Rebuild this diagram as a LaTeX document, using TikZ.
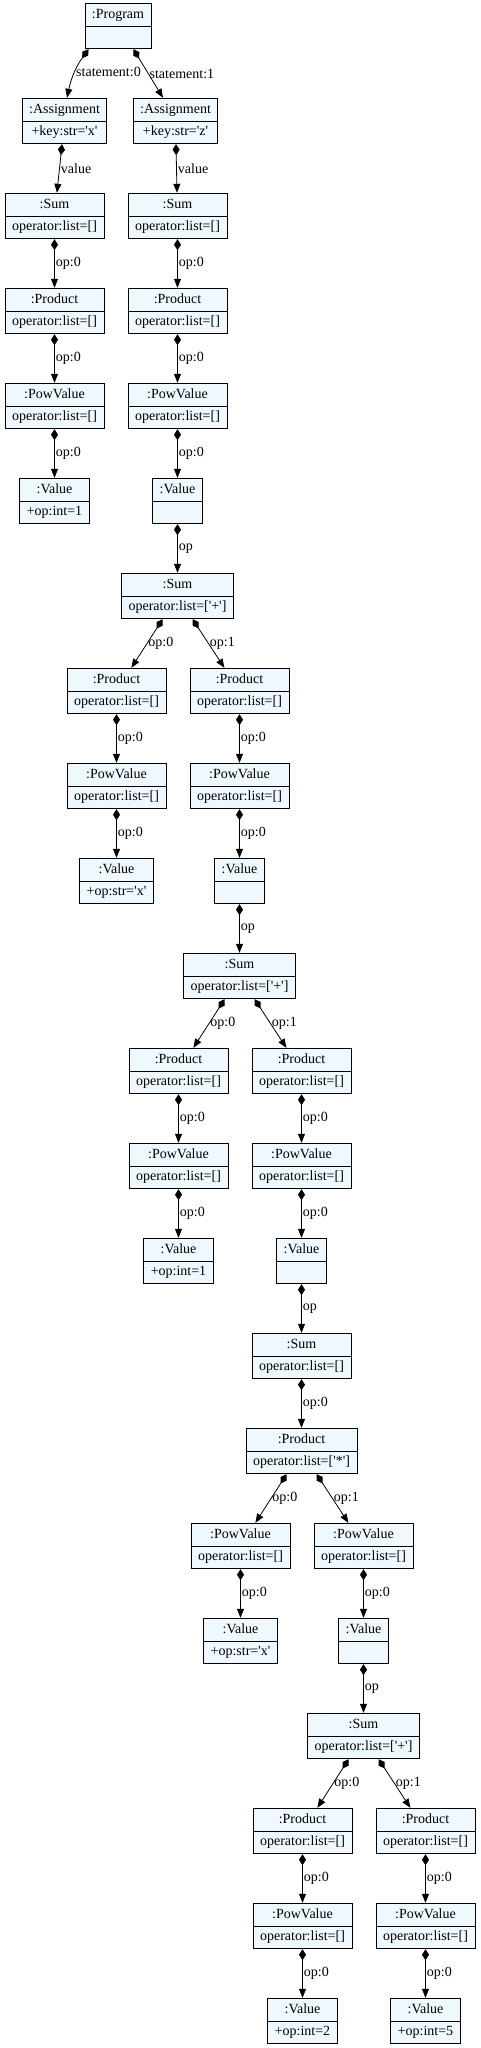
\documentclass[tikz,border=0pt]{standalone}
\usepackage{fontspec}
\setmainfont{Liberation Serif}[Ligatures=TeXOff]
\usetikzlibrary{shapes.multipart, arrows.meta}

\definecolor{objfill}{HTML}{F0F8FF}

\tikzset{
  umlobj/.style={draw, fill=objfill, rectangle split, rectangle split parts=2,
    inner xsep=7pt, inner ysep=3.5pt, line width=0.8pt},
  comp/.style={{Diamond[length=11pt,width=7pt]}-{Triangle[length=9pt,width=7pt]}, line width=0.8pt},
  lbl/.style={midway, right, inner sep=1pt}
}
\newcommand{\obj}[2]{\rule[-4pt]{0pt}{15pt}#1\nodepart{two}\rule[-4pt]{0pt}{15pt}#2}

\begin{document}
\begin{tikzpicture}[x=1pt, y=1pt, font=\fontsize{14}{17}\selectfont]
        \useasboundingbox (0, 0) rectangle (480, -2048);

        \node[umlobj] at (118, -26) (prog) {\obj{:Program}{}};
        \node[umlobj] at (64.5, -121) (asgL) {\obj{:Assignment}{+key:str='x'}};
        \node[umlobj] at (175.5, -121) (asgR) {\obj{:Assignment}{+key:str='z'}};

        % first statement
        \node[umlobj] at (54.5, -216) (sumL) {\obj{:Sum}{operator:list=[]}};
        \node[umlobj] at (54.5, -311) (prodL) {\obj{:Product}{operator:list=[]}};
        \node[umlobj] at (54.5, -406) (powL) {\obj{:PowValue}{operator:list=[]}};
        \node[umlobj] at (54.5, -501) (valL) {\obj{:Value}{+op:int=1}};

        % second statement
        \node[umlobj] at (177.5, -216) (sumR) {\obj{:Sum}{operator:list=[]}};
        \node[umlobj] at (177.5, -311) (prodR) {\obj{:Product}{operator:list=[]}};
        \node[umlobj] at (177.5, -406) (powR) {\obj{:PowValue}{operator:list=[]}};
        \node[umlobj] at (177.5, -501) (valR) {\obj{:Value}{}};

        \node[umlobj] at (177.5, -596) (sumA) {\obj{:Sum}{operator:list=['+']}};
        \node[umlobj] at (116.5, -691) (prodAL) {\obj{:Product}{operator:list=[]}};
        \node[umlobj] at (116.5, -786) (powAL) {\obj{:PowValue}{operator:list=[]}};
        \node[umlobj] at (116.5, -881) (valAL) {\obj{:Value}{+op:str='x'}};
        \node[umlobj] at (239.5, -691) (prodAR) {\obj{:Product}{operator:list=[]}};
        \node[umlobj] at (239.5, -786) (powAR) {\obj{:PowValue}{operator:list=[]}};
        \node[umlobj] at (239.5, -881) (valAR) {\obj{:Value}{}};

        \node[umlobj] at (239.5, -976) (sumB) {\obj{:Sum}{operator:list=['+']}};
        \node[umlobj] at (178.5, -1071) (prodBL) {\obj{:Product}{operator:list=[]}};
        \node[umlobj] at (178.5, -1166) (powBL) {\obj{:PowValue}{operator:list=[]}};
        \node[umlobj] at (178.5, -1261) (valBL) {\obj{:Value}{+op:int=1}};
        \node[umlobj] at (301.5, -1071) (prodBR) {\obj{:Product}{operator:list=[]}};
        \node[umlobj] at (301.5, -1166) (powBR) {\obj{:PowValue}{operator:list=[]}};
        \node[umlobj] at (301.5, -1261) (valBR) {\obj{:Value}{}};

        \node[umlobj] at (301.5, -1356) (sumC) {\obj{:Sum}{operator:list=[]}};
        \node[umlobj] at (301.5, -1451) (prodC) {\obj{:Product}{operator:list=['*']}};
        \node[umlobj] at (240.5, -1546) (powCL) {\obj{:PowValue}{operator:list=[]}};
        \node[umlobj] at (240.5, -1641) (valCL) {\obj{:Value}{+op:str='x'}};
        \node[umlobj] at (363.5, -1546) (powCR) {\obj{:PowValue}{operator:list=[]}};
        \node[umlobj] at (363.5, -1641) (valCR) {\obj{:Value}{}};

        \node[umlobj] at (363.5, -1736) (sumD) {\obj{:Sum}{operator:list=['+']}};
        \node[umlobj] at (302.5, -1831) (prodDL) {\obj{:Product}{operator:list=[]}};
        \node[umlobj] at (302.5, -1926) (powDL) {\obj{:PowValue}{operator:list=[]}};
        \node[umlobj] at (302.5, -2021) (valDL) {\obj{:Value}{+op:int=2}};
        \node[umlobj] at (425.5, -1831) (prodDR) {\obj{:Product}{operator:list=[]}};
        \node[umlobj] at (425.5, -1926) (powDR) {\obj{:PowValue}{operator:list=[]}};
        \node[umlobj] at (425.5, -2021) (valDR) {\obj{:Value}{+op:int=5}};

        \draw[comp] ([xshift=4pt]prog.south west) to[bend right=12] node[lbl] {statement:0} ([xshift=2.5pt]asgL.north);
        \draw[comp] ([xshift=-18pt]prog.south east) -- node[lbl] {statement:1} ([xshift=-12.5pt]asgR.north);

        \draw[comp] (asgL) -- node[lbl] {value} (sumL);
        \draw[comp] (sumL) -- node[lbl] {op:0} (prodL);
        \draw[comp] (prodL) -- node[lbl] {op:0} (powL);
        \draw[comp] (powL) -- node[lbl] {op:0} (valL);

        \draw[comp] (asgR) -- node[lbl] {value} (sumR);
        \draw[comp] (sumR) -- node[lbl] {op:0} (prodR);
        \draw[comp] (prodR) -- node[lbl] {op:0} (powR);
        \draw[comp] (powR) -- node[lbl] {op:0} (valR);
        \draw[comp] (valR) -- node[lbl] {op} (sumA);

        \draw[comp] (sumA) -- node[lbl] {op:0} (prodAL);
        \draw[comp] (sumA) -- node[lbl] {op:1} (prodAR);
        \draw[comp] (prodAL) -- node[lbl] {op:0} (powAL);
        \draw[comp] (powAL) -- node[lbl] {op:0} (valAL);
        \draw[comp] (prodAR) -- node[lbl] {op:0} (powAR);
        \draw[comp] (powAR) -- node[lbl] {op:0} (valAR);
        \draw[comp] (valAR) -- node[lbl] {op} (sumB);

        \draw[comp] (sumB) -- node[lbl] {op:0} (prodBL);
        \draw[comp] (sumB) -- node[lbl] {op:1} (prodBR);
        \draw[comp] (prodBL) -- node[lbl] {op:0} (powBL);
        \draw[comp] (powBL) -- node[lbl] {op:0} (valBL);
        \draw[comp] (prodBR) -- node[lbl] {op:0} (powBR);
        \draw[comp] (powBR) -- node[lbl] {op:0} (valBR);
        \draw[comp] (valBR) -- node[lbl] {op} (sumC);

        \draw[comp] (sumC) -- node[lbl] {op:0} (prodC);
        \draw[comp] (prodC) -- node[lbl] {op:0} (powCL);
        \draw[comp] (prodC) -- node[lbl] {op:1} (powCR);
        \draw[comp] (powCL) -- node[lbl] {op:0} (valCL);
        \draw[comp] (powCR) -- node[lbl] {op:0} (valCR);
        \draw[comp] (valCR) -- node[lbl] {op} (sumD);

        \draw[comp] (sumD) -- node[lbl] {op:0} (prodDL);
        \draw[comp] (sumD) -- node[lbl] {op:1} (prodDR);
        \draw[comp] (prodDL) -- node[lbl] {op:0} (powDL);
        \draw[comp] (powDL) -- node[lbl] {op:0} (valDL);
        \draw[comp] (prodDR) -- node[lbl] {op:0} (powDR);
        \draw[comp] (powDR) -- node[lbl] {op:0} (valDR);
    \end{tikzpicture}
\end{document}
